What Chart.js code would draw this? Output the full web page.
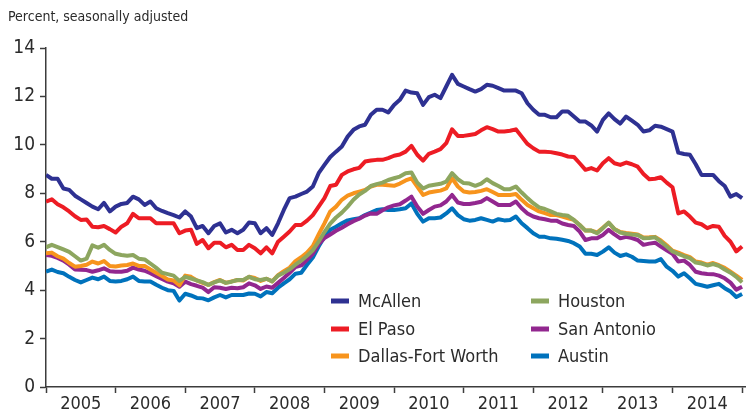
<!DOCTYPE html>
<html>
<head>
<meta charset="utf-8">
<script src="https://cdn.jsdelivr.net/npm/chart.js@4.4.1/dist/chart.umd.min.js"></script>
<style>
  body { margin: 0; background: #fff; }
  #wrap { width: 746px; height: 413px; }
</style>
</head>
<body>
<div id="wrap"><canvas id="myChart" width="746" height="413"></canvas></div>
<script>
"use strict";

// monthly data, Jan 2005 .. Jan 2015
const years = ["2005", "2006", "2007", "2008", "2009", "2010", "2011", "2012", "2013", "2014"];
const yTicks = [0, 2, 4, 6, 8, 10, 12, 14];
const unitLabel = "Percent, seasonally adjusted";

const mcallen = [
  8.76, 8.6, 8.6, 8.2, 8.14, 7.9, 7.75, 7.6, 7.45, 7.34, 7.6, 7.25,
  7.45, 7.56, 7.6, 7.86, 7.75, 7.52, 7.66, 7.38, 7.27, 7.18, 7.1, 7.0,
  7.25, 7.04, 6.56, 6.65, 6.35, 6.65, 6.76, 6.38, 6.49, 6.35, 6.49, 6.79,
  6.76, 6.35, 6.56, 6.28, 6.76, 7.31, 7.8, 7.86, 7.97, 8.07, 8.28, 8.83,
  9.17, 9.5, 9.72, 9.93, 10.34, 10.62, 10.76, 10.83, 11.24, 11.45, 11.45, 11.34,
  11.65, 11.86, 12.24, 12.16, 12.13, 11.65, 11.97, 12.07, 11.93, 12.41, 12.89, 12.52,
  12.41, 12.3, 12.2, 12.3, 12.48, 12.44, 12.34, 12.24, 12.24, 12.24, 12.13, 11.72,
  11.45, 11.24, 11.24, 11.14, 11.14, 11.38, 11.38, 11.17, 10.96, 10.96, 10.8, 10.55,
  11.03, 11.3, 11.06, 10.88, 11.17, 11.0, 10.83, 10.55, 10.6, 10.79, 10.75, 10.65,
  10.55, 9.68, 9.62, 9.59, 9.2, 8.76, 8.76, 8.76, 8.5, 8.3, 7.86, 7.97, 7.8
];
const elPaso = [
  7.66, 7.75, 7.55, 7.42, 7.25, 7.05, 6.9, 6.92, 6.62, 6.6, 6.65, 6.52,
  6.38, 6.62, 6.76, 7.15, 6.97, 6.97, 6.97, 6.76, 6.76, 6.76, 6.76, 6.35,
  6.46, 6.49, 5.91, 6.07, 5.73, 5.96, 5.96, 5.77, 5.87, 5.66, 5.66, 5.87,
  5.73, 5.52, 5.77, 5.52, 6.0, 6.21, 6.42, 6.69, 6.69, 6.87, 7.1, 7.45,
  7.8, 8.3, 8.35, 8.76, 8.9, 8.99, 9.05, 9.31, 9.35, 9.38, 9.38, 9.45,
  9.55, 9.6, 9.72, 9.96, 9.59, 9.35, 9.63, 9.72, 9.82, 10.07, 10.64, 10.37,
  10.37, 10.41, 10.45, 10.6, 10.73, 10.65, 10.55, 10.55, 10.58, 10.64, 10.34, 10.04,
  9.86, 9.72, 9.72, 9.7, 9.65, 9.6, 9.52, 9.5, 9.24, 8.97, 9.04, 8.94,
  9.24, 9.45, 9.24, 9.17, 9.27, 9.2, 9.1, 8.8, 8.58, 8.6, 8.66, 8.44,
  8.25, 7.17, 7.25, 7.04, 6.79, 6.72, 6.56, 6.65, 6.62, 6.24, 6.0, 5.6, 5.8
];
const dallas = [
  5.52, 5.55, 5.4, 5.3, 5.12, 4.97, 5.0, 5.05, 5.18, 5.1, 5.2, 5.0,
  4.98, 5.02, 5.04, 5.1, 5.0, 5.0, 4.85, 4.72, 4.58, 4.44, 4.4, 4.2,
  4.6, 4.55, 4.4, 4.3, 4.22, 4.33, 4.42, 4.3, 4.36, 4.42, 4.4, 4.55,
  4.5, 4.38, 4.47, 4.36, 4.62, 4.78, 4.93, 5.2, 5.36, 5.55, 5.82, 6.3,
  6.76, 7.25, 7.45, 7.73, 7.9, 8.0, 8.07, 8.14, 8.28, 8.35, 8.35, 8.33,
  8.31, 8.4, 8.53, 8.62, 8.28, 7.93, 8.03, 8.07, 8.11, 8.2, 8.62, 8.28,
  8.07, 8.03, 8.05, 8.1, 8.17, 8.05, 7.93, 7.93, 7.93, 7.97, 7.73, 7.52,
  7.38, 7.25, 7.18, 7.1, 7.1, 7.04, 6.97, 6.9, 6.69, 6.46, 6.46, 6.38,
  6.58, 6.78, 6.52, 6.4, 6.36, 6.33, 6.3, 6.17, 6.18, 6.2, 6.05, 5.85,
  5.63, 5.55, 5.45, 5.36, 5.18, 5.14, 5.05, 5.12, 5.03, 4.92, 4.76, 4.6, 4.42
];
const houston = [
  5.77, 5.87, 5.78, 5.68, 5.58, 5.4, 5.22, 5.3, 5.85, 5.75, 5.87, 5.66,
  5.5, 5.45, 5.42, 5.45, 5.3, 5.27, 5.1, 4.92, 4.72, 4.66, 4.6, 4.38,
  4.55, 4.48, 4.4, 4.33, 4.22, 4.32, 4.4, 4.3, 4.35, 4.42, 4.42, 4.55,
  4.45, 4.42, 4.47, 4.36, 4.6, 4.72, 4.86, 5.05, 5.22, 5.42, 5.65, 6.0,
  6.4, 6.75, 7.0, 7.2, 7.45, 7.73, 7.95, 8.1, 8.3, 8.38, 8.44, 8.55,
  8.62, 8.69, 8.83, 8.86, 8.44, 8.2, 8.31, 8.35, 8.39, 8.48, 8.83, 8.58,
  8.42, 8.4, 8.31, 8.4, 8.58, 8.42, 8.3, 8.17, 8.17, 8.28, 8.03, 7.8,
  7.59, 7.42, 7.35, 7.25, 7.15, 7.1, 7.07, 6.9, 6.69, 6.46, 6.46, 6.35,
  6.56, 6.79, 6.52, 6.38, 6.33, 6.3, 6.28, 6.14, 6.15, 6.18, 6.0, 5.8,
  5.6, 5.5, 5.4, 5.32, 5.14, 5.1, 5.02, 5.08, 5.0, 4.85, 4.72, 4.55, 4.32
];
const sanAntonio = [
  5.45, 5.42, 5.33, 5.22, 5.05, 4.85, 4.84, 4.83, 4.76, 4.82, 4.9, 4.78,
  4.76, 4.76, 4.8, 4.93, 4.85, 4.8, 4.7, 4.58, 4.46, 4.35, 4.28, 4.14,
  4.35, 4.25, 4.18, 4.1, 3.92, 4.12, 4.1, 4.05, 4.1, 4.08, 4.12, 4.28,
  4.2, 4.05, 4.15, 4.1, 4.3, 4.5, 4.72, 4.95, 5.02, 5.25, 5.5, 5.9,
  6.15, 6.3, 6.45, 6.58, 6.72, 6.85, 6.95, 7.08, 7.17, 7.15, 7.3, 7.42,
  7.5, 7.55, 7.7, 7.86, 7.45, 7.15, 7.31, 7.45, 7.5, 7.66, 7.93, 7.62,
  7.56, 7.56, 7.6, 7.65, 7.8, 7.66, 7.52, 7.52, 7.52, 7.66, 7.38, 7.17,
  7.04, 6.97, 6.93, 6.87, 6.87, 6.75, 6.69, 6.65, 6.42, 6.07, 6.14, 6.14,
  6.28, 6.49, 6.3, 6.14, 6.2, 6.15, 6.07, 5.87, 5.92, 5.96, 5.8, 5.65,
  5.5, 5.18, 5.22, 5.04, 4.76, 4.7, 4.67, 4.66, 4.6, 4.49, 4.31, 4.02, 4.14
];
const austin = [
  4.76, 4.85, 4.75, 4.7, 4.55, 4.42, 4.32, 4.42, 4.52, 4.45, 4.56, 4.38,
  4.36, 4.38, 4.45, 4.56, 4.38, 4.36, 4.36, 4.22, 4.1, 4.0, 3.97, 3.57,
  3.85, 3.78, 3.68, 3.66, 3.58, 3.7, 3.8, 3.7, 3.8, 3.8, 3.8, 3.86,
  3.85, 3.74, 3.92, 3.87, 4.1, 4.28, 4.45, 4.68, 4.72, 5.05, 5.35, 5.8,
  6.21, 6.49, 6.62, 6.76, 6.88, 6.93, 6.97, 7.1, 7.2, 7.31, 7.34, 7.31,
  7.31, 7.34, 7.38, 7.58, 7.15, 6.83, 6.97, 6.97, 7.0, 7.17, 7.38, 7.1,
  6.93, 6.87, 6.9, 6.97, 6.9, 6.83, 6.93, 6.88, 6.9, 7.04, 6.76, 6.56,
  6.35, 6.21, 6.2, 6.14, 6.12, 6.08, 6.03, 5.94, 5.8, 5.5, 5.5, 5.45,
  5.59, 5.77, 5.55, 5.41, 5.48, 5.38, 5.22, 5.2, 5.18, 5.18, 5.28, 4.97,
  4.8, 4.56, 4.7, 4.49, 4.26, 4.2, 4.14, 4.2, 4.26, 4.08, 3.94, 3.72, 3.84
];

const seriesNames = ["McAllen", "El Paso", "Dallas-Fort Worth", "Houston", "San Antonio", "Austin"];
const seriesColors = ["#2e3192", "#ed1c24", "#f7941d", "#8da65f", "#92278f", "#0072bc"];
const seriesValues = [mcallen, elPaso, dallas, houston, sanAntonio, austin];
// lower number is drawn on top
const drawOrder = [1, 2, 4, 3, 5, 6];

const FONT = '"Liberation Sans Narrow", "Arial Narrow", "DejaVu Sans Condensed", sans-serif';
const TEXT = "#2b2b2b";
const AXIS = "#3c3c3c";

const months = mcallen.map((v, i) => i);

// Title in the top left corner
const unitTitle = {
  id: "unitTitle",
  afterDraw(chart) {
    const c = chart.ctx;
    c.save();
    c.font = "14px " + FONT;
    c.fillStyle = TEXT;
    c.textBaseline = "middle";
    c.fillText(unitLabel, 8, 17);
    c.restore();
  }
};

// Two column legend inside the plot
const boxLegend = {
  id: "boxLegend",
  afterDraw(chart) {
    const c = chart.ctx;
    const cols = [331, 531];
    const rows = [301, 329, 356];
    c.save();
    c.font = "18px " + FONT;
    c.textBaseline = "middle";
    chart.data.datasets.forEach((ds, i) => {
      const x = cols[Math.floor(i / 3)];
      const y = rows[i % 3];
      c.strokeStyle = ds.borderColor;
      c.lineWidth = 5;
      c.beginPath();
      c.moveTo(x, y);
      c.lineTo(x + 18, y);
      c.stroke();
      c.fillStyle = TEXT;
      c.fillText(ds.label, x + 27, y + 1);
    });
    c.restore();
  }
};

const ctx = document.getElementById("myChart").getContext("2d");
const myChart = new Chart(ctx, {
  type: "line",
  data: {
    labels: months,
    datasets: seriesNames.map((name, i) => ({
      label: name,
      data: seriesValues[i],
      borderColor: seriesColors[i],
      backgroundColor: seriesColors[i],
      borderWidth: 4,
      pointRadius: 0,
      tension: 0,
      borderJoinStyle: "round",
      order: drawOrder[i]
    }))
  },
  options: {
    responsive: false,
    animation: false,
    layout: { padding: { top: 48, right: 1, left: 0, bottom: 0 } },
    plugins: {
      legend: { display: false },
      tooltip: { enabled: false }
    },
    scales: {
      x: {
        type: "linear",
        min: 0,
        max: 120.5,
        afterBuildTicks: (scale) => {
          const t = [];
          for (let v = 0; v <= 120; v += 6) t.push({ value: v });
          scale.ticks = t;
        },
        afterFit: (scale) => { scale.height = 26; },
        ticks: {
          autoSkip: false,
          maxRotation: 0,
          padding: 1,
          color: TEXT,
          font: { family: FONT, size: 18 },
          callback: (v) => (v % 12 === 6 ? years[(v - 6) / 12] : "")
        },
        grid: {
          drawOnChartArea: false,
          tickLength: 6,
          tickWidth: 1.5,
          tickColor: (c) => (c.tick && c.tick.value % 12 === 0 ? AXIS : "rgba(0,0,0,0)")
        },
        border: { color: AXIS, width: 1.5 }
      },
      y: {
        min: 0,
        max: 14,
        afterBuildTicks: (scale) => {
          scale.ticks = yTicks.map((v) => ({ value: v }));
        },
        afterFit: (scale) => { scale.width = 46; },
        ticks: {
          padding: 5,
          color: TEXT,
          font: { family: FONT, size: 19 }
        },
        grid: {
          drawOnChartArea: false,
          tickLength: 6,
          tickWidth: 1.5,
          tickColor: AXIS
        },
        border: { color: AXIS, width: 1.5 }
      }
    }
  },
  plugins: [unitTitle, boxLegend]
});
</script>
</body>
</html>
